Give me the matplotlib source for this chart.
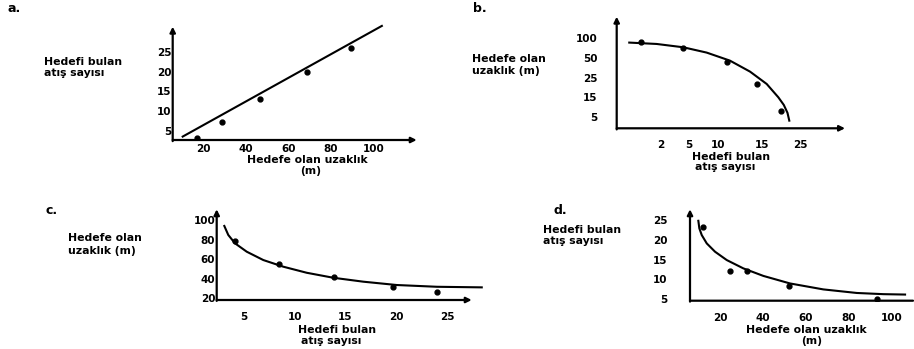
# -*- coding: utf-8 -*-
"""
Hedef / atis sayisi - four schematic panels (a, b, c, d)
"""
import matplotlib
matplotlib.use("Agg")
import matplotlib.pyplot as plt

W, H = 914, 349

# ---- panel a : straight line ----
a_dist = [17.2, 28.7, 46.7, 68.9, 89.5]
a_hits = [3.2, 7.3, 13.0, 19.9, 26.0]
a_fit_x = [10.3, 104.0]
a_fit_y = [3.5, 31.7]
a_xticks = [20, 40, 60, 80, 100]
a_yticks = [5, 10, 15, 20, 25]

# ---- panel b : axes have uneven scales, values are axis positions ----
b_xtick_pos = [1.94, 3.18, 4.45, 6.35, 8.06]
b_xtick_lab = ["2", "5", "10", "15", "25"]
b_ytick_pos = [1, 2, 3, 4, 5]
b_ytick_lab = ["5", "15", "25", "50", "100"]
b_hits = [1.05, 2.92, 4.82, 6.13, 7.18]
b_dist = [4.83, 4.52, 3.78, 2.67, 1.29]
b_curve_x = [0.55, 1.75, 2.92, 3.94, 4.96, 5.84, 6.57, 7.08, 7.32, 7.48, 7.56]
b_curve_y = [4.78, 4.71, 4.54, 4.27, 3.86, 3.30, 2.67, 1.99, 1.60, 1.20, 0.80]

# ---- panel c ----
c_hits = [4.11, 8.48, 13.87, 19.71, 23.99]
c_dist = [78.5, 55.0, 41.5, 31.8, 26.7]
c_curve_x = [3.06, 3.45, 4.11, 5.27, 6.90, 8.87, 11.18, 13.80, 16.75, 20.04, 24.0, 28.42]
c_curve_y = [93.9, 84.7, 76.2, 67.6, 59.1, 52.3, 46.1, 41.0, 37.0, 33.6, 31.8, 31.2]
c_xticks = [5, 10, 15, 20, 25]
c_yticks = [20, 40, 60, 80, 100]

# ---- panel d ----
d_dist = [12.2, 24.7, 32.4, 52.3, 93.0]
d_hits = [23.2, 12.2, 12.2, 8.4, 5.15]
d_curve_x = [9.89, 10.35, 11.47, 13.80, 17.67, 23.12, 30.86, 40.18, 52.6, 68.1, 83.7, 96.1, 106.2]
d_curve_y = [24.8, 22.9, 21.2, 19.1, 17.0, 14.9, 12.8, 10.9, 9.0, 7.5, 6.6, 6.3, 6.2]
d_xticks = [20, 40, 60, 80, 100]
d_yticks = [5, 10, 15, 20, 25]

FONT = "DejaVu Sans"
TICK_FS = 7.5
LAB_FS = 7.8


def make_axes(fig, left, right, bottom, top, xlim, ylim, xarrow=True):
	ax = fig.add_axes([left / W, 1 - bottom / H, (right - left) / W, (bottom - top) / H])
	ax.set_xlim(*xlim)
	ax.set_ylim(*ylim)
	for s in ax.spines.values():
		s.set_visible(False)
	ax.patch.set_visible(False)
	style = "-|>" if xarrow else "-"
	ax.annotate("", xy=(1, 0), xytext=(0, 0), xycoords="axes fraction",
				arrowprops=dict(arrowstyle=style, lw=1.6, color="black", mutation_scale=8,
								shrinkA=0, shrinkB=0))
	ax.annotate("", xy=(0, 1), xytext=(0, -0.01), xycoords="axes fraction",
				arrowprops=dict(arrowstyle="-|>", lw=1.6, color="black", mutation_scale=8,
								shrinkA=0, shrinkB=0))
	return ax


def style_ticks(ax, xpad, ypad):
	ax.tick_params(axis="x", length=0, pad=xpad, labelsize=TICK_FS)
	ax.tick_params(axis="y", length=0, pad=ypad, labelsize=TICK_FS)
	for t in ax.get_xticklabels() + ax.get_yticklabels():
		t.set_fontweight("bold")
		t.set_fontfamily(FONT)


def ftext(fig, x, y, s, ha="left", size=LAB_FS):
	fig.text(x / W, 1 - y / H, s, ha=ha, va="center", fontsize=size,
			 fontweight="bold", family=FONT)


fig = plt.figure(figsize=(W / 100, H / 100), dpi=100)

# a
ax = make_axes(fig, 172.7, 416.7, 140, 26.7, (5.6, 120.4), (2.63, 31.5))
ax.plot(a_fit_x, a_fit_y, "-", color="black", lw=1.5, clip_on=False)
ax.plot(a_dist, a_hits, "o", color="black", ms=3.5)
ax.set_xticks(a_xticks)
ax.set_yticks(a_yticks)
style_ticks(ax, 3, 1)
ftext(fig, 8, 9, "a.", size=9)
ftext(fig, 44, 62, "Hedefi bulan")
ftext(fig, 44, 73, "atış sayısı")
ftext(fig, 307, 160, "Hedefe olan uzaklık", ha="center")
ftext(fig, 311, 171, "(m)", ha="center")

# b
ax = make_axes(fig, 616.7, 845, 128.3, 16.7, (0, 10), (0.41, 6.1))
ax.plot(b_curve_x, b_curve_y, "-", color="black", lw=1.5)
ax.plot(b_hits, b_dist, "o", color="black", ms=3.5)
ax.set_xticks(b_xtick_pos, b_xtick_lab)
ax.set_yticks(b_ytick_pos, b_ytick_lab)
style_ticks(ax, 8.5, 14)
ftext(fig, 473, 8, "b.", size=9)
ftext(fig, 472, 59, "Hedefe olan")
ftext(fig, 472, 71, "uzaklık (m)")
ftext(fig, 731, 157, "Hedefi bulan", ha="center")
ftext(fig, 725, 167, "atış sayısı", ha="center")

# c
ax = make_axes(fig, 216.7, 471.7, 300, 209.3, (2.31, 27.43), (18.3, 110.9))
ax.plot(c_curve_x, c_curve_y, "-", color="black", lw=1.5, clip_on=False)
ax.plot(c_hits, c_dist, "o", color="black", ms=3.5)
ax.set_xticks(c_xticks)
ax.set_yticks(c_yticks)
style_ticks(ax, 9, 1)
ftext(fig, 45, 210, "c.", size=9)
ftext(fig, 68, 238, "Hedefe olan")
ftext(fig, 68, 251, "uzaklık (m)")
ftext(fig, 337, 330, "Hedefi bulan", ha="center")
ftext(fig, 331, 341, "atış sayısı", ha="center")

# d
ax = make_axes(fig, 690, 913, 300.7, 209.3, (6.0, 109.9), (4.65, 27.7), xarrow=False)
ax.plot(d_curve_x, d_curve_y, "-", color="black", lw=1.5)
ax.plot(d_dist, d_hits, "o", color="black", ms=3.5)
ax.set_xticks(d_xticks)
ax.set_yticks(d_yticks)
style_ticks(ax, 9, 16)
ftext(fig, 554, 210, "d.", size=9)
ftext(fig, 543, 230, "Hedefi bulan")
ftext(fig, 543, 241, "atış sayısı")
ftext(fig, 806, 330, "Hedefe olan uzaklık", ha="center")
ftext(fig, 812, 341, "(m)", ha="center")

fig.savefig("out.png", dpi=100)
